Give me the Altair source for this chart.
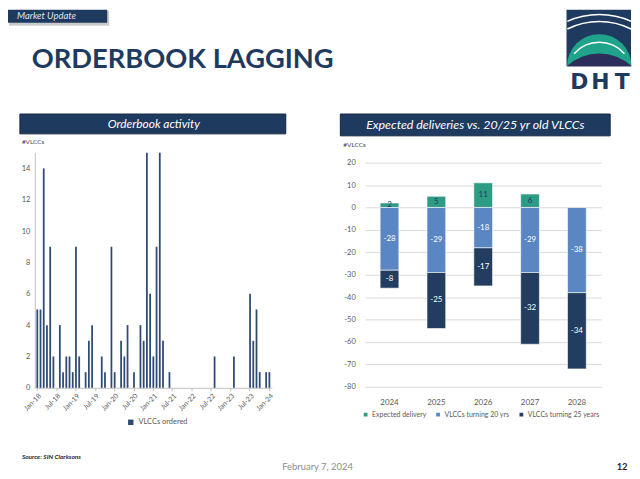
import altair as alt
import pandas as pd

# ---------------- data ----------------
MON = ["Jan", "Feb", "Mar", "Apr", "May", "Jun", "Jul", "Aug", "Sep", "Oct", "Nov", "Dec"]
months = [f"{m}-{y}" for y in range(18, 25) for m in MON][:73]
ordered = [5, 5, 14, 4, 9, 2, 0, 4, 1, 2, 2, 1,
           9, 2, 0, 1, 3, 4, 0, 0, 2, 1, 0, 9,
           1, 0, 3, 2, 4, 0, 1, 0, 4, 3, 15, 6,
           2, 9, 15, 3, 0, 1, 0, 0, 0, 0, 0, 0,
           0, 0, 0, 0, 0, 0, 0, 2, 0, 0, 0, 0,
           0, 2, 0, 0, 0, 0, 6, 3, 5, 1, 0, 1,
           1]
month_ticks = months[::6]
left_y_ticks = [0, 2, 4, 6, 8, 10, 12, 14]

years = ["2024", "2025", "2026", "2027", "2028"]
expected_delivery = [2, 5, 11, 6, None]
turning_20 = [-28, -29, -18, -29, -38]
turning_25 = [-8, -25, -17, -32, -34]
series_names = ["Expected delivery", "VLCCs turning 20 yrs", "VLCCs turning 25 years"]
right_y_ticks = [20, 10, 0, -10, -20, -30, -40, -50, -60, -70, -80]

# ---------------- styles ----------------
FONT = "Lato"
NAVY = "#1F3A5F"
BAR_L = "#2F4B73"
COLORS = ["#2E9B85", "#5A87C4", "#223D5F"]
GRAY = "#595959"
AXC = "#BFBFBF"

left_df = pd.DataFrame({"month": months, "n": ordered, "series": "VLCCs ordered"})

rows = []
for i, yr in enumerate(years):
    if expected_delivery[i] is not None:
        rows.append({"year": yr, "series": series_names[0], "value": expected_delivery[i], "ord": 0})
    rows.append({"year": yr, "series": series_names[1], "value": turning_20[i], "ord": 1})
    rows.append({"year": yr, "series": series_names[2], "value": turning_25[i], "ord": 2})
right_df = pd.DataFrame(rows)
right_df["label"] = right_df["value"].astype(str)

ONE = pd.DataFrame({"d": [0]})


def rect(x, x2, y, y2, color, **kw):
    return alt.Chart(ONE).mark_rect(color=color, **kw).encode(
        x=alt.value(x), x2=alt.value(x2), y=alt.value(y), y2=alt.value(y2))


def text(t, x, y, size, color, align="left", font=FONT, **kw):
    return alt.Chart(ONE).mark_text(text=t, font=font, fontSize=size, color=color,
                                    align=align, baseline="middle", **kw).encode(
        x=alt.value(x), y=alt.value(y))


def arc(cx, cy, r, r2, t1, t2, color):
    return alt.Chart(ONE).mark_arc(radius=r, radius2=r2, theta=t1, theta2=t2,
                                   color=color).encode(x=alt.value(cx), y=alt.value(cy))


PI = 3.14159265
TAU = 2 * PI

# ---------------- left panel ----------------
bars_l = alt.Chart(left_df).mark_bar(color=BAR_L).encode(
    x=alt.X("month:N", sort=months,
            scale=alt.Scale(paddingInner=0.45, paddingOuter=0.5),
            axis=alt.Axis(values=month_ticks, labelAngle=-45, labelFontSize=7, labelFont=FONT,
                          labelColor=GRAY, tickSize=3, tickColor=AXC, domainColor=AXC,
                          title=None, labelPadding=1, grid=False, labelOverlap=False,
                          labelBound=False)),
    y=alt.Y("n:Q", scale=alt.Scale(domain=[0, 15], nice=False),
            axis=alt.Axis(values=left_y_ticks, title=None, ticks=False, grid=False,
                          domainColor=AXC, labelPadding=5, labelFontSize=7.5,
                          labelFont=FONT, labelColor=GRAY)),
    color=alt.Color("series:N", scale=alt.Scale(range=[BAR_L]),
                    legend=alt.Legend(orient="none", legendX=93, legendY=268, title=None,
                                      symbolType="square", symbolSize=30,
                                      labelFontSize=7.5, labelFont=FONT, labelColor=GRAY)),
)

decor_l = [
    # header tab
    rect(-26, 75, -143, -128, "#A6A6A6", opacity=0.6),
    rect(-27, 73, -144, -131, NAVY),
    text("Market Update", -18, -137.5, 9.5, "#DCE3EC", fontStyle="italic"),
    # main title
    text("ORDERBOOK LAGGING", -3, -93, 27.5, NAVY, fontWeight="bold"),
    # logo
    rect(536, 601, -144, -87, NAVY),
    arc(569, -60, 80, 78.5, TAU - 0.418, TAU + 0.418, "#FFFFFF"),
    arc(569, -60, 73, 71.5, TAU - 0.461, TAU + 0.461, "#FFFFFF"),
    arc(569, -87, 32.5, 0, 1.5 * PI, 2.5 * PI, "#1FA38A"),
    arc(569, -78, 34.2, 32.7, TAU - 0.86, TAU + 0.86, "#FFFFFF"),
    arc(569, -52, 48, 0, TAU - 0.744, TAU + 0.744, "#2C2D5A"),
    rect(531, 602, -87, -52, "#FFFFFF"),
    text("D", 549, -71, 22, NAVY, align="center", fontWeight="bold", font="DejaVu Sans"),
    text("H", 570, -71, 22, NAVY, align="center", fontWeight="bold", font="DejaVu Sans"),
    text("T", 592, -71, 22, NAVY, align="center", fontWeight="bold", font="DejaVu Sans"),
    # panel title bar
    rect(-15, 253, -39, -19, NAVY, stroke="#13263F", strokeWidth=1),
    text("Orderbook activity", 120, -29, 12, "#FFFFFF", align="center", fontStyle="italic"),
    text("#VLCCs", -13, -11, 6.5, "#404040"),
    # footer
    text("Source: SIN Clarksons", -13, 307, 6.5, "#262626", fontStyle="italic", fontWeight="bold"),
    text("February 7, 2024", 285, 317, 9.5, "#8C8C8C", align="center"),
    text("12", 592, 317, 9.5, "#262626", align="center", fontWeight="bold"),
]

left = alt.layer(*decor_l, bars_l).properties(width=239, height=237)

# ---------------- right panel ----------------
base_r = alt.Chart(right_df).transform_stack(
    stack="value", groupby=["year"], as_=["v0", "v1"],
    sort=[alt.SortField("ord", order="ascending")]
).transform_calculate(
    mid="(datum.v0 + datum.v1) / 2",
    lc="datum.ord == 0 ? '#1F3A5F' : '#FFFFFF'"
)

x_r = alt.X("year:N", sort=years,
            scale=alt.Scale(paddingInner=0.6, paddingOuter=0.32),
            axis=alt.Axis(title=None, ticks=False, domain=False, labelAngle=0,
                          labelFontSize=8, labelFont=FONT, labelColor=GRAY, labelPadding=11))
yscale_r = alt.Scale(domain=[-80.44, 24.42], nice=False, zero=False)
yaxis_r = alt.Axis(values=right_y_ticks, title=None, ticks=False, domain=False,
                   gridColor="#D9D9D9", gridWidth=1, labelExpr="'' + datum.value",
                   labelFontSize=7.5, labelFont=FONT, labelPadding=10, labelColor=GRAY)

bars_r = base_r.mark_bar(stroke="#FFFFFF", strokeWidth=0.6).encode(
    x=x_r,
    y=alt.Y("v0:Q", scale=yscale_r, axis=yaxis_r),
    y2="v1:Q",
    color=alt.Color("series:N", scale=alt.Scale(domain=series_names, range=COLORS),
                    legend=alt.Legend(orient="none", direction="horizontal", legendX=-3,
                                      legendY=260, title=None, symbolType="square",
                                      symbolSize=28, labelFontSize=7, labelFont=FONT,
                                      labelColor=GRAY, columnPadding=5, labelOffset=3)),
)
labels_r = base_r.mark_text(fontSize=8, font=FONT).encode(
    x=x_r,
    y=alt.Y("mid:Q", scale=yscale_r, axis=yaxis_r),
    text="label:N",
    color=alt.Color("lc:N", scale=None),
)

decor_r = [
    rect(-25, 247, -39, -17, NAVY, stroke="#13263F", strokeWidth=1),
    text("Expected deliveries vs. 20/25 yr old VLCCs", 111, -28, 12.5, "#FFFFFF",
         align="center", fontStyle="italic"),
    text("#VLCCs", -22, -8, 6.5, "#404040"),
]

right = alt.layer(*decor_r, bars_r, labels_r).properties(width=238, height=237)

chart = alt.hconcat(left, right, spacing=94, bounds="flush").resolve_scale(
    color="independent"
).properties(padding=0, background="#FFFFFF").configure_view(strokeWidth=0)

chart.save("out.html", embed_options={"renderer": "svg", "actions": False})
